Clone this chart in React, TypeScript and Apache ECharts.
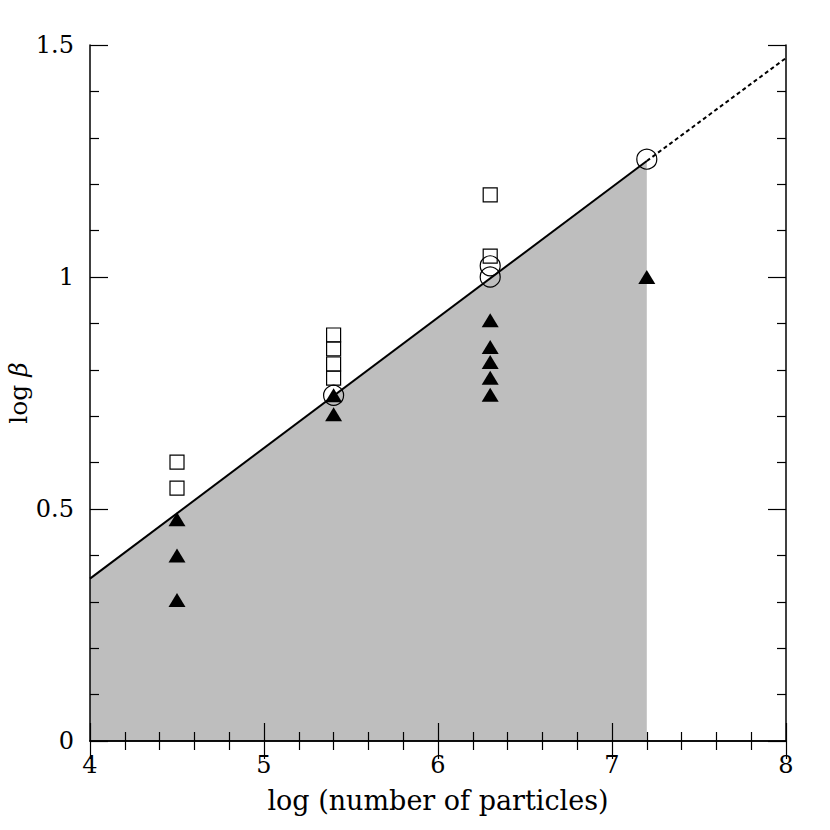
import React, { useEffect, useRef } from "react";
import * as echarts from "echarts";

const xTicks = [4, 5, 6, 7, 8];
const yTicks = [0, 0.5, 1, 1.5];
const squarePts = [
  [4.5, 0.601], [4.5, 0.545],
  [5.4, 0.875], [5.4, 0.845], [5.4, 0.8125], [5.4, 0.782],
  [6.3, 1.177], [6.3, 1.045],
];
const circlePts = [
  [5.4, 0.745], [6.3, 1.024], [6.3, 1.0], [7.2, 1.254],
];
const trianglePts = [
  [4.5, 0.478], [4.5, 0.4], [4.5, 0.304],
  [5.4, 0.745], [5.4, 0.704],
  [6.3, 0.907], [6.3, 0.849], [6.3, 0.817], [6.3, 0.783], [6.3, 0.746],
  [7.2, 1.0],
];
const fitSolid = [[4, 0.35], [7.2, 1.25]];
const fitDashed = [[7.2, 1.25], [8, 1.472]];

const FONT = "DejaVu Serif";

export default function App() {
  const ref = useRef<HTMLDivElement>(null);
  useEffect(() => {
    if (!ref.current) return;
    const chart = echarts.init(ref.current, undefined, { renderer: "svg" });
    const tick = { show: true, inside: true, length: 18, lineStyle: { color: "#000", width: 1.2 } };
    const minor = { show: true, splitNumber: 5, length: 9, lineStyle: { color: "#000", width: 1.2 } };
    const axLine = { show: true, lineStyle: { color: "#000", width: 1.5 } };
    const xBase = {
      type: "value" as const,
      min: xTicks[0],
      max: xTicks[xTicks.length - 1],
      interval: 1,
      z: 10,
      axisLine: axLine,
      axisTick: tick,
      minorTick: minor,
      splitLine: { show: false },
      minorSplitLine: { show: false },
    };
    const yBase = {
      type: "value" as const,
      min: yTicks[0],
      max: yTicks[yTicks.length - 1],
      interval: 0.5,
      z: 10,
      axisLine: axLine,
      axisTick: tick,
      minorTick: minor,
      splitLine: { show: false },
      minorSplitLine: { show: false },
    };
    chart.setOption({
      animation: false,
      backgroundColor: "#fff",
      grid: { left: 90, top: 45, width: 696, height: 696, containLabel: false, outerBoundsMode: "none" },
      graphic: [
        {
          type: "text",
          x: 18,
          y: 393,
          rotation: Math.PI / 2,
          style: {
            text: "{a|log }{b|β}",
            align: "center",
            verticalAlign: "middle",
            fill: "#000",
            fontFamily: FONT,
            fontSize: 25,
            rich: {
              a: { fontFamily: FONT, fontSize: 25, fill: "#000", color: "#000" },
              b: { fontFamily: FONT, fontSize: 25, fontStyle: "italic", fill: "#000", color: "#000" },
            },
          },
        },
      ],
      xAxis: [
        {
          ...xBase,
          position: "bottom",
          axisLabel: { color: "#000", fontFamily: FONT, fontSize: 24, margin: 12 },
          name: "log (number of particles)",
          nameLocation: "middle",
          nameGap: 46,
          nameTextStyle: { color: "#000", fontFamily: FONT, fontSize: 27 },
        },
        { ...xBase, position: "top", axisLabel: { show: false } },
      ],
      yAxis: [
        {
          ...yBase,
          position: "left",
          axisLabel: { color: "#000", fontFamily: FONT, fontSize: 24, margin: 16 },
        },
        { ...yBase, position: "right", axisLabel: { show: false } },
      ],
      series: [
        {
          type: "line",
          data: fitSolid,
          symbol: "none",
          lineStyle: { color: "#000", width: 2 },
          areaStyle: { color: "#bebebe", opacity: 1 },
          z: 1,
        },
        {
          type: "line",
          data: fitDashed,
          symbol: "none",
          lineStyle: { color: "#000", width: 2, type: [4, 3] },
          z: 1,
        },
        {
          type: "scatter",
          data: trianglePts,
          symbol: "triangle",
          symbolSize: [17, 14],
          itemStyle: { color: "#000", opacity: 1 },
          z: 3,
        },
        {
          type: "scatter",
          data: circlePts,
          symbol: "circle",
          symbolSize: 20,
          itemStyle: { color: "rgba(0,0,0,0)", borderColor: "#000", borderWidth: 1.2, opacity: 1 },
          z: 4,
        },
        {
          type: "scatter",
          data: squarePts,
          symbol: "rect",
          symbolSize: 14,
          itemStyle: { color: "rgba(0,0,0,0)", borderColor: "#000", borderWidth: 1.2, opacity: 1 },
          z: 5,
        },
      ],
    });
    return () => chart.dispose();
  }, []);
  return (
    <div
      ref={ref}
      style={{ position: "absolute", left: 0, top: 0, width: 830, height: 830 }}
    />
  );
}
